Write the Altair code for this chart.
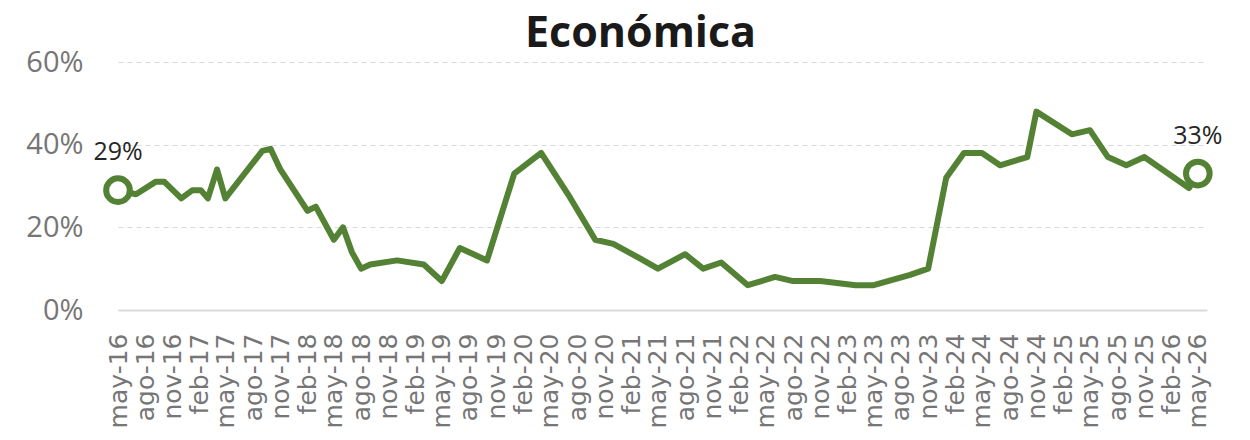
import altair as alt
import pandas as pd

# ---- data ----
dates = [
    "2016-05-01", "2016-07-01", "2016-09-05", "2016-10-05", "2016-12-01",
    "2017-01-08", "2017-02-05", "2017-03-01", "2017-04-01", "2017-04-29",
    "2017-09-01", "2017-09-29", "2017-11-01", "2018-02-01", "2018-03-01",
    "2018-05-01", "2018-06-01", "2018-07-01", "2018-08-01", "2018-09-01",
    "2018-12-01", "2019-03-01", "2019-05-01", "2019-07-01", "2019-10-01",
    "2020-01-01", "2020-04-01", "2020-07-01", "2020-10-01", "2020-12-01",
    "2021-03-01", "2021-05-01", "2021-08-01", "2021-10-01", "2021-12-01",
    "2022-03-01", "2022-06-01", "2022-08-01", "2022-11-01", "2023-03-01",
    "2023-05-01", "2023-09-01", "2023-11-01", "2024-01-01", "2024-03-01",
    "2024-05-01", "2024-07-01", "2024-10-01", "2024-11-01", "2025-03-01",
    "2025-05-01", "2025-07-01", "2025-09-01", "2025-11-01", "2026-04-01",
    "2026-05-01",
]
values = [
    29, 28, 31, 31, 27,
    29, 29, 27, 34, 27,
    38.5, 39, 34, 24, 25,
    17, 20, 14, 10, 11,
    12, 11, 7, 15, 12,
    33, 38, 28, 17, 16,
    12.5, 10, 13.5, 10, 11.5,
    6, 8, 7, 7, 6,
    6, 8.5, 10, 32, 38,
    38, 35, 37, 48, 42.5,
    43.5, 37, 35, 37, 29.5,
    33,
]
end_dates = ["2016-05-01", "2026-05-01"]
end_values = [29, 33]
end_labels = ["29%", "33%"]

# x tick marks: every 3 months from may-16 to may-26
tick_dates = [
    "2016-05-01", "2016-08-01", "2016-11-01", "2017-02-01", "2017-05-01",
    "2017-08-01", "2017-11-01", "2018-02-01", "2018-05-01", "2018-08-01",
    "2018-11-01", "2019-02-01", "2019-05-01", "2019-08-01", "2019-11-01",
    "2020-02-01", "2020-05-01", "2020-08-01", "2020-11-01", "2021-02-01",
    "2021-05-01", "2021-08-01", "2021-11-01", "2022-02-01", "2022-05-01",
    "2022-08-01", "2022-11-01", "2023-02-01", "2023-05-01", "2023-08-01",
    "2023-11-01", "2024-02-01", "2024-05-01", "2024-08-01", "2024-11-01",
    "2025-02-01", "2025-05-01", "2025-08-01", "2025-11-01", "2026-02-01",
    "2026-05-01",
]
month_abbr = ["ene", "feb", "mar", "abr", "may", "jun",
              "jul", "ago", "sep", "oct", "nov", "dic"]
y_ticks = [0, 20, 40, 60]

title_text = "Económica"

# ---- build ----
df = pd.DataFrame({"fecha": dates, "valor": [v / 100 for v in values]})
df_end = pd.DataFrame({"fecha": end_dates,
                       "valor": [v / 100 for v in end_values],
                       "etiqueta": end_labels})

GREEN = "#548235"
FONT = "Open Sans"
LABEL_GRAY = "#767676"


def to_ms(s):
    return int(pd.Timestamp(s, tz="UTC").value // 10**6)


tick_vals = [to_ms(d) for d in tick_dates]
month_js = "[" + ",".join("'%s'" % m for m in month_abbr) + "]"
label_expr = month_js + "[utcmonth(datum.value)] + '-' + utcFormat(datum.value, '%y')"

x_enc = alt.X(
    "fecha:T",
    scale=alt.Scale(type="utc",
                    domain=[to_ms("2016-05-01"), to_ms("2026-06-01")]),
    axis=alt.Axis(values=tick_vals, tickCount=len(tick_vals) + 5,
                  labelExpr=label_expr, labelAngle=-90,
                  labelAlign="right", labelBaseline="middle",
                  labelFontSize=25, labelColor=LABEL_GRAY,
                  labelFont="DejaVu Sans",
                  labelPadding=23, ticks=False, grid=False,
                  domainColor="#d9d9d9", domainWidth=2, title=None,
                  labelOverlap=False, labelBound=False, labelFlush=False),
)
y_enc = alt.Y(
    "valor:Q",
    scale=alt.Scale(domain=[0, 0.6], nice=False),
    axis=alt.Axis(values=[v / 100 for v in y_ticks], format=".0%",
                  labelFontSize=29, labelColor=LABEL_GRAY, labelFont=FONT,
                  labelPadding=35, ticks=False, domain=False,
                  gridColor="#d9d9d9", gridDash=[5, 4], gridWidth=1.2,
                  title=None),
)

line = alt.Chart(df).mark_line(color=GREEN, strokeWidth=6,
                               strokeJoin="round", strokeCap="round").encode(
    x=x_enc, y=y_enc)

pts = alt.Chart(df_end).mark_point(shape="circle", size=560, filled=True,
                                   fill="white", stroke=GREEN, strokeWidth=6,
                                   opacity=1).encode(
    x="fecha:T", y="valor:Q")

txt = alt.Chart(df_end).mark_text(dy=-30, baseline="alphabetic", fontSize=25,
                                  font=FONT, color="#262626").encode(
    x="fecha:T", y="valor:Q", text="etiqueta:N")

chart = alt.layer(line, pts, txt).properties(
    width=1089, height=248,
    title=alt.TitleParams(title_text, fontSize=43, fontWeight="bold",
                          font=FONT, color="#1a1a1a", anchor="middle",
                          dx=-22, dy=18, offset=10),
    autosize=alt.AutoSizeParams(type="none"),
    padding={"left": 110, "top": 54, "right": 30, "bottom": 122},
).configure(background="white").configure_view(stroke=None)

chart.save("out.html", embed_options={"renderer": "svg", "actions": False})
